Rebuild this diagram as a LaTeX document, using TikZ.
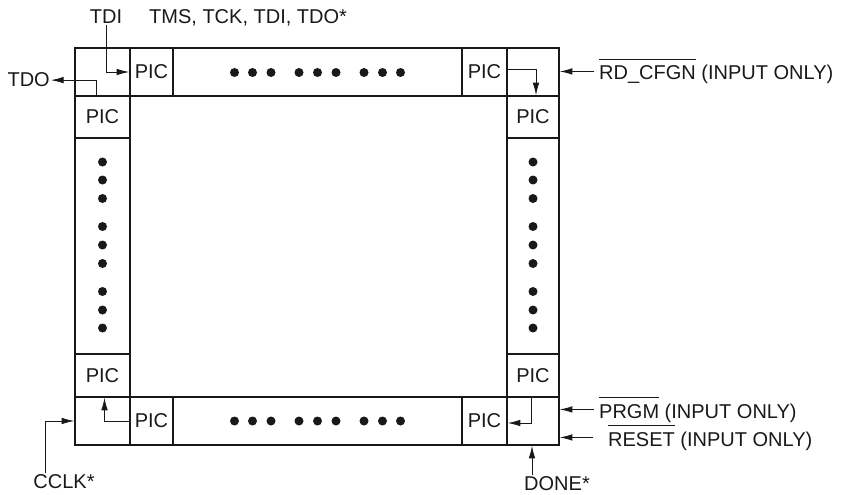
\documentclass[tikz,border=0pt]{standalone}
\usepackage{fontspec}
\setmainfont{Liberation Sans}
\usetikzlibrary{arrows.meta}
\newcommand{\barsig}[1]{\vbox{\hrule height 0.8pt\kern 6.5pt\hbox{#1}}}

\begin{document}
\begin{tikzpicture}[x=1pt,y=-1pt,font=\fontsize{20}{24}\selectfont,color=black!90,
  cell/.style={draw,line width=1.6pt,inner sep=0pt},
  sig/.style={line width=0.8pt,-{Latex[length=12.5pt,width=6.5pt]}},
  lbl/.style={inner sep=1pt}]
\useasboundingbox (0,0) rectangle (841,495);
% empty cells: corners and the three long runs
\foreach \n/\x/\y/\w/\h in {ctl/102.5/72/55/48, ctr/533/72/52/48, cbl/102.5/421/55/48, cbr/533/421/52/48,
  topmid/317.5/72/289/48, botmid/317.5/421/289/48, leftmid/102.5/246/55/216, rightmid/533/246/52/216}
  {\node[cell,minimum width=\w,minimum height=\h] (\n) at (\x,\y) {};}
% PIC cells
\foreach \n/\x/\y/\w/\h in {ptl/151.5/72/43/48, ptr/484.5/72/45/48, pbl/151.5/421/43/48, pbr/484.5/421/45/48,
  plt/102.5/117/55/42, plb/102.5/375.5/55/43, prt/533/117/52/42, prb/533/375.5/52/43}
  {\node[cell,minimum width=\w,minimum height=\h] (\n) at (\x,\y) {PIC};}
% dots
\foreach \o in {-83,-65,-46.5,-18.5,0,18.5,46.5,65,83}{
  \fill (317.5+\o,72.5) circle (4.5pt); \fill (317.5+\o,421) circle (4.5pt);
  \fill (102.5,245+\o) circle (4.5pt); \fill (533,245+\o) circle (4.5pt);}
% labels
\node[lbl,anchor=base] (tdi) at (106,24) {TDI};
\node[lbl,anchor=base west] (jtag) at (148,24) {TMS, TCK, TDI, TDO*};
\node[lbl,anchor=base east] (tdo) at (51,87) {TDO};
\node[lbl,anchor=base west] (rdcfg) at (598,80) {\barsig{RD\_CFGN} (INPUT ONLY)};
\node[lbl,anchor=base west] (prgm) at (598,418) {\barsig{PRGM} (INPUT ONLY)};
\node[lbl,anchor=base west] (reset) at (607,446) {\barsig{RESET} (INPUT ONLY)};
\node[lbl,anchor=base] (cclk) at (64,488) {CCLK*};
\node[lbl,anchor=base] (done) at (557,490) {DONE*};
% signals
\draw[sig] (tdi.south) |- (ptl.west);
\draw[sig] ([xshift=-6.5pt]ctl.south) |- (tdo.east);
\draw[sig] ([yshift=3pt]ptr.east) -| ([xshift=3pt]prt.north);
\draw[sig] ([xshift=-4pt]rdcfg.west) -- (rdcfg.west -| ctr.east);
\draw[sig] ([xshift=-4pt]prgm.west) -- (prgm.west -| cbr.east);
\draw[sig] ([xshift=-14pt]reset.west) -- (reset.west -| cbr.east);
\draw[sig] ([xshift=-19pt]cclk.north) |- (cbl.west);
\draw[sig] ([xshift=-1pt]cbr.south |- done.north) -- ([xshift=-1pt]cbr.south);
\draw[sig] (pbl.west) -| ([xshift=2pt]plb.south);
\draw[sig] ([xshift=-2pt]prb.south) |- ([yshift=-2pt]pbr.east);
\end{tikzpicture}
\end{document}
